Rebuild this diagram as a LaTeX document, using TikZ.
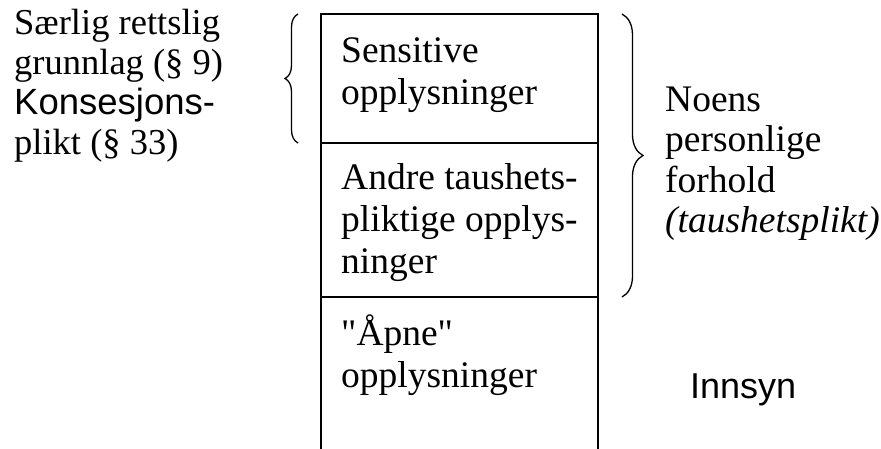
\documentclass[tikz,border=0pt]{standalone}
\usepackage{fontspec}
\setmainfont{Liberation Serif}[Ligatures=TeXOff]
\newfontfamily\arialfont{Liberation Sans}
\usetikzlibrary{decorations.pathreplacing}

\begin{document}
\begin{tikzpicture}[x=1pt,y=-1pt,
    txt/.style={anchor=base west,inner sep=0pt,align=left,font=\fontsize{37.5}{42}\selectfont},
    curly/.style={decorate,decoration={brace,amplitude=#1},line width=1.3pt}]
      \useasboundingbox (0,0) rectangle (881,449);
      \coordinate (tl) at (321,14);
      \coordinate (tr) at (598,14);
      \coordinate (bl) at (321,449);
      \coordinate (br) at (598,449);
      \coordinate (d1l) at (321,143);
      \coordinate (d1r) at (598,143);
      \coordinate (d2l) at (321,297);
      \coordinate (d2r) at (598,297);
      \coordinate (lbtop) at (298,14);
      \coordinate (lbbot) at (298,143);
      \coordinate (rbtop) at (622,14);
      \coordinate (rbbot) at (622,297);
      \draw
        (14,155) node[txt,font=\fontsize{36.5}{40}\selectfont] (saerlig){S\ae rlig rettslig\\grunnlag (§ 9)\\{\arialfont Konsesjons-}\\plikt (§ 33)}
        (341,105) node[txt] (sens){Sensitive\\opplysninger}
        (341,273) node[txt] (andre){Andre taushets-\\pliktige opplys-\\ninger}
        (341,387) node[txt] (apne){"Åpne"\\opplysninger}
        (665,233) node[txt,font=\fontsize{37.5}{40.5}\selectfont] (noens){Noens\\personlige\\forhold\\\textit{(taushetsplikt)}}
        (690,398) node[txt,font=\arialfont\fontsize{36}{40}\selectfont] (innsyn){Innsyn};
      \begin{scope}[line width=1.2pt]
        \draw (bl) -- (tl) -- (tr) -- (br);
        \draw (d1l) -- (d1r);
        \draw (d2l) -- (d2r);
        \draw[curly=13pt] (lbbot) -- (lbtop);
        \draw[curly=21pt] (rbtop) -- (rbbot);
      \end{scope}
    \end{tikzpicture}
\end{document}
